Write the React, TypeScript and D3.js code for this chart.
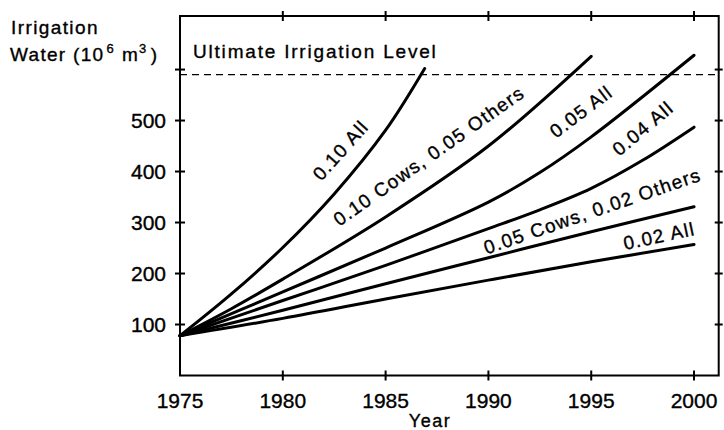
import React from "react";
import * as d3 from "d3";

const W = 724;
const H = 430;

// Series names, years and values
const seriesNames = [
  "0.10 All",
  "0.10 Cows, 0.05 Others",
  "0.05 All",
  "0.04 All",
  "0.05 Cows, 0.02 Others",
  "0.02 All",
];
const years0 = [1975, 1977.5, 1980, 1982.5, 1985, 1986.9];
const values0 = [78, 160, 251, 356, 481, 602];
const years1 = [1975, 1977.5, 1980, 1985, 1990, 1995];
const values1 = [78, 131, 189, 311, 450, 626];
const years2 = [1975, 1980, 1985, 1990, 1992.5, 1995, 2000];
const values2 = [78, 164, 250, 340, 398, 468, 628];
const years3 = [1975, 1980, 1985, 1990, 1992.5, 1995, 1997.5, 2000];
const values3 = [78, 147, 216, 288, 325, 367, 422, 487];
const years4 = [1975, 1980, 1985, 1990, 1995, 2000];
const values4 = [78, 128, 180, 231, 282, 331];
const years5 = [1975, 1980, 1985, 1990, 1995, 2000];
const values5 = [78, 112, 150, 187, 223, 257];

const seriesYears = [years0, years1, years2, years3, years4, years5];
const seriesValues = [values0, values1, values2, values3, values4, values5];

// Label anchor (year, value) and angle for each curve label
const labelYears = [1982.8, 1987.1, 1994.5, 1997.5, 1995.05, 1998.3];
const labelValues = [442, 431, 518, 485, 323, 274];
const labelAngles = [-48, -35, -37, -40, -19, -12];

const xTicks = [1975, 1980, 1985, 1990, 1995, 2000];
const xTickLabels = ["1975", "1980", "1985", "1990", "1995", "2000"];
const yTicks = [100, 200, 300, 400, 500, 600];
const yTickLabels = ["100", "200", "300", "400", "500", ""];
const ultimateLevel = 590;
const ultimateLabel = "Ultimate Irrigation Level";

const FONT = "'Liberation Sans', Arial, Helvetica, sans-serif";
const TS = { stroke: "#000", strokeWidth: 0.35 };

export default function App() {
  const x = d3.scaleLinear().domain([1975, 2001.2]).range([180, 718.7]);
  const y = d3.scaleLinear().domain([0, 705]).range([375.5, 16]);
  const line = d3
    .line<[number, number]>()
    .x((d) => x(d[0]))
    .y((d) => y(d[1]))
    .curve(d3.curveCatmullRom.alpha(0.5));

  const [x0, x1] = x.range();
  const [yb, yt] = y.range();

  return (
    <svg
      width={W}
      height={H}
      style={{ position: "absolute", left: 0, top: 0, background: "#fff" }}
      fontFamily={FONT}
    >
      <rect x={0} y={0} width={W} height={H} fill="#fff" />
      {/* frame */}
      <rect
        x={x0}
        y={yt}
        width={x1 - x0}
        height={yb - yt}
        fill="none"
        stroke="#000"
        strokeWidth={2}
      />
      {/* x ticks bottom and top */}
      {xTicks.map((t, i) => (
        <g key={"xt" + i}>
          {i > 0 && (
            <>
              <line x1={x(t)} x2={x(t)} y1={yb - 5} y2={yb + 5} stroke="#000" strokeWidth={2} />
              <line x1={x(t)} x2={x(t)} y1={yt - 5} y2={yt + 5} stroke="#000" strokeWidth={2} />
            </>
          )}
          <text x={x(t)} y={408} textAnchor="middle" fontSize={21} fill="#000" {...TS}>
            {xTickLabels[i]}
          </text>
        </g>
      ))}
      {/* y ticks left and right */}
      {yTicks.map((t, i) => (
        <g key={"yt" + i}>
          <line x1={x0 - 5} x2={x0 + 5} y1={y(t)} y2={y(t)} stroke="#000" strokeWidth={2} />
          <line x1={x1 - 4} x2={x1 + 4} y1={y(t)} y2={y(t)} stroke="#000" strokeWidth={2} />
          <text
            x={166}
            y={y(t)}
            dy="0.36em"
            textAnchor="end"
            fontSize={21}
            fill="#000"
            {...TS}
          >
            {yTickLabels[i]}
          </text>
        </g>
      ))}
      {/* ultimate level */}
      <line
        x1={x0}
        x2={x1}
        y1={y(ultimateLevel)}
        y2={y(ultimateLevel)}
        stroke="#000"
        strokeWidth={1.3}
        strokeDasharray="7,5"
      />
      <text x={193} y={58} fontSize={19} letterSpacing={1.8} fill="#000" {...TS}>
        {ultimateLabel}
      </text>
      {/* curves */}
      {seriesNames.map((name, i) => {
        const pts: [number, number][] = seriesYears[i].map((yr, j) => [yr, seriesValues[i][j]]);
        return (
          <path
            key={name}
            d={line(pts) || ""}
            fill="none"
            stroke="#000"
            strokeWidth={3}
            strokeLinecap="round"
          />
        );
      })}
      {/* curve labels */}
      {seriesNames.map((name, i) => (
        <text
          key={"lab" + i}
          transform={`translate(${x(labelYears[i])},${y(labelValues[i])}) rotate(${labelAngles[i]})`}
          textAnchor="middle"
          dy="0.36em"
          fontSize={19}
          letterSpacing={1.3}
          fill="#000"
          {...TS}
        >
          {name}
        </text>
      ))}
      {/* axis titles */}
      <text x={430} y={427} textAnchor="middle" fontSize={18} letterSpacing={1.5} fill="#000" {...TS}>
        Year
      </text>
      <text x={11} y={34} fontSize={19} letterSpacing={1.4} fill="#000" {...TS}>
        Irrigation
      </text>
      <text x={10} y={61} fontSize={19} letterSpacing={1.3} fill="#000" {...TS}>
        Water (10
        <tspan fontSize={13} dy={-8} dx={2}>6</tspan>
        <tspan dy={8} dx={7}>m</tspan>
        <tspan fontSize={13} dy={-8}>3</tspan>
        <tspan dy={8} dx={3}>)</tspan>
      </text>
    </svg>
  );
}
